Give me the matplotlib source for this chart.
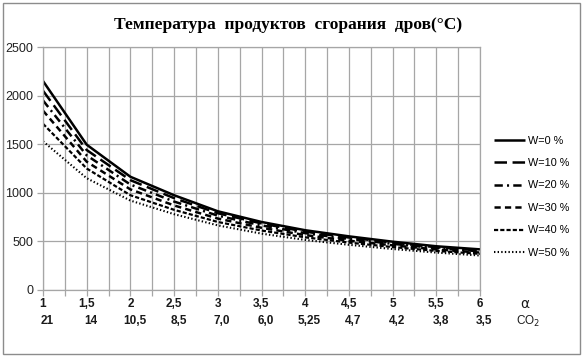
import matplotlib
matplotlib.use("Agg")
import matplotlib.pyplot as plt
import matplotlib.transforms as mtrans
from matplotlib.patches import Rectangle

plt.rcParams['lines.scale_dashes'] = False

alpha = [1, 1.5, 2, 2.5, 3, 3.5, 4, 4.5, 5, 5.5, 6]
alpha_labels = ["1", "1,5", "2", "2,5", "3", "3,5", "4", "4,5", "5", "5,5", "6"]
co2_labels = ["21", "14", "10,5", "8,5", "7,0", "6,0", "5,25", "4,7", "4,2", "3,8", "3,5"]

w0 = [2150, 1495, 1165, 975, 810, 700, 615, 552, 497, 450, 418]
w10 = [2050, 1440, 1130, 945, 790, 685, 600, 540, 487, 440, 408]
w20 = [1950, 1385, 1085, 910, 765, 665, 585, 525, 475, 430, 398]
w30 = [1845, 1320, 1035, 870, 735, 640, 565, 507, 460, 417, 385]
w40 = [1710, 1250, 975, 825, 700, 612, 542, 488, 442, 402, 372]
w50 = [1530, 1150, 920, 780, 665, 580, 515, 465, 422, 385, 355]
series_names = ["W=0 %", "W=10 %", "W=20 %", "W=30 %", "W=40 %", "W=50 %"]
series = [w0, w10, w20, w30, w40, w50]

styles = [
    dict(linestyle='-', lw=1.8),
    dict(dashes=(9, 4), lw=1.8),
    dict(dashes=(6, 3, 1.5, 3), lw=1.8),
    dict(dashes=(4.5, 3), lw=1.8),
    dict(dashes=(3, 1.5), lw=1.6),
    dict(dashes=(1, 1.6), lw=1.5),
]

W, H = 584, 359
fig = plt.figure(figsize=(W / 100, H / 100), dpi=100)
fig.patch.set_facecolor('white')
fig.patches.append(Rectangle((3 / W, 5 / H), 577 / W, 351 / H, transform=fig.transFigure,
                             fill=False, edgecolor='#8c8c8c', lw=1))

L, R, T, B = 43, 480, 47, 290
ax = fig.add_axes([L / W, 1 - B / H, (R - L) / W, (B - T) / H])
grid_c = '#a6a6a6'

for vals, name, st in zip(series, series_names, styles):
    ax.plot(alpha, vals, color='black', label=name, solid_capstyle='butt',
            dash_capstyle='butt', **st)

ax.set_xlim(1, 6)
ax.set_ylim(0, 2500)
ax.set_xticks([1 + 0.25 * i for i in range(21)])
ax.set_yticks(range(0, 2501, 500))
ax.set_xticklabels([])
ax.grid(True, color=grid_c, lw=0.9)
ax.set_axisbelow(True)
for s in ax.spines.values():
    s.set_color(grid_c)
    s.set_linewidth(0.9)
ax.tick_params(axis='both', color=grid_c, length=4, width=0.9)
ax.tick_params(axis='y', labelsize=9, pad=3, labelcolor='#222222')
for lab in ax.get_yticklabels():
    lab.set_family('Liberation Sans')

# custom two-row x labels
y1 = 1 - 304 / H
y2 = 1 - 321 / H
blend = mtrans.blended_transform_factory(ax.transData, fig.transFigure)
for x, a_lab, c_lab in zip(alpha, alpha_labels, co2_labels):
    ax.text(x, y1, a_lab, transform=blend, ha='center', va='center', fontsize=8.5,
            fontweight='bold', family='Liberation Sans', color='#1a1a1a', clip_on=False)
    ax.text(x + 0.05, y2, c_lab, transform=blend, ha='center', va='center', fontsize=8.5,
            fontweight='bold', family='Liberation Sans', color='#1a1a1a', clip_on=False)
fig.text(525 / W, y1, "α", ha='center', va='center', fontsize=10, family='DejaVu Sans',
         color='#1a1a1a')
fig.text(528 / W, y2, "CO$_2$", ha='center', va='center', fontsize=8.5, family='Liberation Sans',
         color='#1a1a1a')

fig.text(288 / W, 1 - 25 / H, "Температура  продуктов  сгорания  дров(°C)", ha='center',
         va='center', fontsize=12.5, fontweight='bold', family='Liberation Serif')

leg = fig.legend(loc='upper left', bbox_to_anchor=(486 / W, 1 - 128 / H), frameon=False,
                 handlelength=2.9, handletextpad=0.3, labelspacing=1.15,
                 borderpad=0.2, prop={'family': 'Liberation Sans', 'size': 7.8})

fig.savefig("out.png", dpi=100)
